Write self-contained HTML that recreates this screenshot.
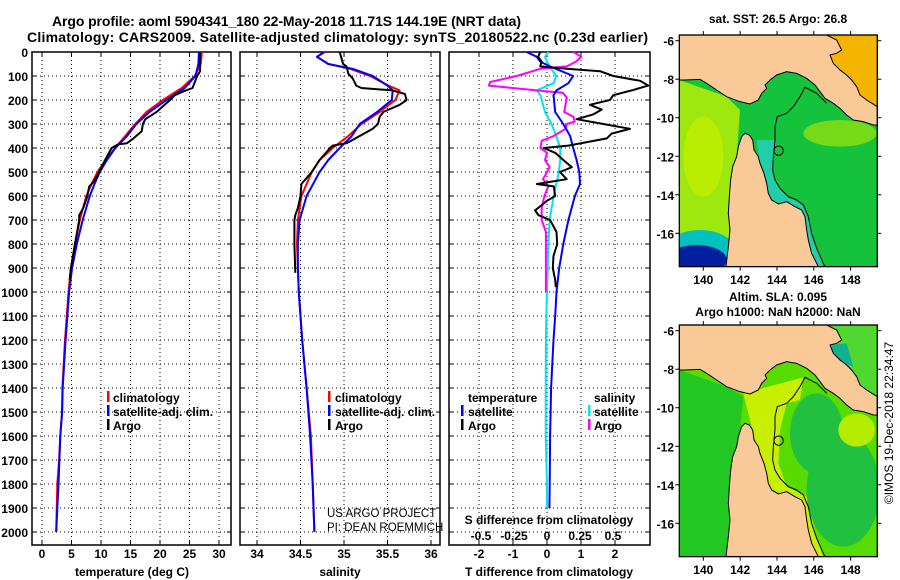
<!DOCTYPE html>
<html><head><meta charset="utf-8"><style>
html,body{margin:0;padding:0;background:#fff;width:900px;height:580px;overflow:hidden}
svg{display:block}
text{font-family:"Liberation Sans",Arial,sans-serif;font-weight:bold;fill:#000}
</style></head><body>
<svg id="fig" width="900" height="580" viewBox="0 0 900 580" xmlns="http://www.w3.org/2000/svg">
<text x="52" y="26" font-size="14" textLength="469">Argo profile: aoml 5904341_180 22-May-2018 11.71S 144.19E (NRT data)</text>
<text x="27" y="42" font-size="14" textLength="621">Climatology: CARS2009. Satellite-adjusted climatology: synTS_20180522.nc (0.23d earlier)</text>
<g id="panels"></g>
<g id="maps"></g>
</svg>
<script>
// ---- data ----
const climDepth=[0,50,100,150,200,250,300,350,400,450,500,550,600,700,800,900,1000,1100,1200,1400,1500,1600,1700,1800,2000];
const climT=[27.1,26.9,25.9,23.7,20.5,17.7,15.8,14.1,12.4,10.8,9.4,8.4,7.5,6.4,5.6,4.9,4.5,4.2,3.9,3.45,3.4,3.1,2.9,2.6,2.4];
const satT=[26.6,26.5,26.0,24.2,21.1,18.2,16.0,14.4,12.4,11.0,9.8,8.9,8.1,6.9,5.9,5.1,4.6,4.3,4.0,3.5,3.4,3.1,2.95,2.8,2.4];
const argoTDepth=[0,80,100,150,165,180,200,250,280,300,330,360,380,385,400,450,500,540,560,600,650,680,700,800,900,950];
const argoT=[26.8,26.8,26.3,25.5,23.9,22.5,21.7,19.4,17.5,17.1,16.9,15.5,14.4,12.9,11.8,10.7,9.7,8.8,8.0,7.7,7.0,6.3,6.3,5.6,4.9,4.7];
const salDepth=[0,20,50,70,100,140,160,200,250,300,350,400,450,500,600,700,800,900,1000,1100,1200,1400,1600,1800,2000];
const climS=[34.78,34.69,34.82,35.07,35.30,35.51,35.64,35.59,35.41,35.2,35.05,34.87,34.72,34.63,34.51,34.47,34.46,34.47,34.48,34.5,34.52,34.57,34.62,34.64,34.66];
const satS=[34.77,34.69,34.82,35.1,35.33,35.5,35.56,35.55,35.38,35.18,35.09,34.95,34.82,34.72,34.57,34.49,34.47,34.47,34.48,34.5,34.52,34.57,34.61,34.64,34.66];
const argoSDepth=[0,50,60,90,110,140,150,160,175,200,220,250,270,300,320,350,380,390,400,450,500,550,600,650,680,700,800,920];
const argoS=[34.95,34.99,35.03,35.05,35.1,35.14,35.2,35.56,35.7,35.72,35.64,35.45,35.41,35.39,35.33,35.18,35.03,34.87,34.84,34.72,34.63,34.51,34.5,34.47,34.44,34.43,34.43,34.44];
const satDiffDepth=[0,20,40,60,100,130,160,180,250,300,350,400,450,500,550,600,700,800,900,1000,1100,1200,1400,1600,1800,1900];
const satDT=[-0.6,-0.3,-0.2,0.09,0.77,0.63,0.28,0.19,0.24,0.48,0.68,0.77,0.87,0.95,0.97,0.82,0.63,0.48,0.36,0.28,0.24,0.19,0.12,0.09,0.08,0.07];
const satDS=[0.01,-0.015,0.0,0.02,0.07,0.05,-0.08,-0.05,-0.015,0.035,0.07,0.1,0.1,0.09,0.07,0.05,0.02,0.01,0.005,0,-0.005,-0.008,-0.01,-0.01,0.0,0.0];
const argoDTDepth=[0,20,40,60,70,80,100,120,140,160,180,200,220,240,260,280,300,320,340,360,390,400,420,450,480,500,530,550,560,600,620,660,680,700,750,800,850,900,950,980];
const argoDT=[-0.2,-0.26,-0.16,-0.2,0.58,1.56,1.95,2.74,2.98,2.49,1.95,1.85,1.26,1.61,1.36,0.87,1.66,2.44,1.9,1.76,0.63,-0.1,0.24,0.48,0.73,0.38,0.58,-0.3,0.2,0.24,0.0,-0.35,-0.25,0.09,0.28,0.3,0.19,0.17,0.24,0.26];
const argoDSDepth=[0,20,40,60,70,100,125,140,150,160,170,190,220,250,270,290,300,320,350,370,400,420,450,480,500,530,560,600,650,700,750,800,1000];
const argoDS=[0.2,0.26,0.22,0.15,-0.05,-0.23,-0.43,-0.44,-0.26,-0.08,0.12,0.15,0.14,0.13,0.2,0.21,0.15,0.14,0.05,-0.04,-0.05,0,-0.015,0.02,0,-0.03,0.01,-0.02,-0.04,-0.04,-0.008,-0.008,-0.008];
const depthTicks=[0,100,200,300,400,500,600,700,800,900,1000,1100,1200,1300,1400,1500,1600,1700,1800,1900,2000];
const tempTicks=[0,5,10,15,20,25,30];
const salTicks=[34,34.5,35,35.5,36];
const salTickLabels=["34","34.5","35","35.5","36"];
const dTTicks=[-2,-1,0,1,2];
const dSTicks=[-0.5,-0.25,0,0.25,0.5];
const dSTickLabels=["-0.5","-0.25","0","0.25","0.5"];

const NS="http://www.w3.org/2000/svg";
const G=document.getElementById('panels');
function mk(tag,attrs,parent){const e=document.createElementNS(NS,tag);for(const k in attrs)e.setAttribute(k,attrs[k]);(parent||G).appendChild(e);return e;}
const yD=d=>52+d*0.24;
const TOP=52,BOT=545;
const xT=t=>42+t*5.9;
const xS=s=>257+(s-34)*87;
const xDT=v=>547+v*34;
const xDS=v=>547+v*132;

function frame(x0,x1,gridXs,name){
  const g=mk('g',{});
  
  
  for(const gx of gridXs){
    const l=mk('line',{x1:gx,x2:gx,y1:TOP,y2:BOT,stroke:'#000','stroke-width':1,'stroke-dasharray':'1,3'},g);
    
    
    mk('line',{x1:gx,x2:gx,y1:TOP,y2:TOP+4,stroke:'#000'},g);
    mk('line',{x1:gx,x2:gx,y1:BOT,y2:BOT-4,stroke:'#000'},g);
  }
  for(const d of depthTicks){
    const y=yD(d);
    const l=mk('line',{x1:x0,x2:x1,y1:y,y2:y,stroke:'#000','stroke-width':1,'stroke-dasharray':'1,3'},g);
    
    
    mk('line',{x1:x0,x2:x0+4,y1:y,y2:y,stroke:'#000'},g);
    mk('line',{x1:x1,x2:x1-4,y1:y,y2:y,stroke:'#000'},g);
  }
  const r=mk('rect',{x:x0,y:TOP,width:x1-x0,height:BOT-TOP,fill:'none',stroke:'#000','stroke-width':1.5},g);
  
  
  return g;
}
function line(xs,ds,xf,color,name,w){
  const pts=xs.map((v,i)=>xf(v).toFixed(1)+','+yD(ds[i]).toFixed(1)).join(' ');
  const p=mk('polyline',{points:pts,fill:'none',stroke:color,'stroke-width':w||2,'stroke-linejoin':'round'});
  
  
}
function txt(x,y,s,size,anchor,name,extra){
  const t=mk('text',Object.assign({x:x,y:y,'font-size':size,'text-anchor':anchor||'start'},extra||{}));
  t.textContent=s;
  
  
  return t;
}
function legendBar(x,y,color){const b=mk('rect',{x:x,y:y-11,width:2.5,height:11,fill:color});}

// depth axis labels
for(const d of depthTicks){txt(28,yD(d)+5,String(d),12,'end','depth-tick-label');}

// Panel 1 temperature
frame(32,231,tempTicks.map(xT),'temperature-panel');
line(climT,climDepth,xT,'#ff0000','temperature-climatology-line');
line(satT,climDepth,xT,'#0000ff','temperature-satellite-line');
line(argoT,argoTDepth,xT,'#000000','temperature-argo-line');
tempTicks.forEach(t=>txt(xT(t),558,String(t),12,'middle','temperature-tick-label'));
txt(132,576,'temperature (deg C)',12,'middle','x-axis-title-temperature');
legendBar(107,402,'#ff0000');txt(113,402,'climatology',12,'start','legend-entry-climatology');
legendBar(107,416,'#0000ff');txt(113,416,'satellite-adj. clim.',12,'start','legend-entry-satellite');
legendBar(107,430,'#000');txt(113,430,'Argo',12,'start','legend-entry-argo');

// Panel 2 salinity
frame(240,440,salTicks.map(xS),'salinity-panel');
line(climS,salDepth,xS,'#ff0000','salinity-climatology-line');
line(satS,salDepth,xS,'#0000ff','salinity-satellite-line');
line(argoS,argoSDepth,xS,'#000000','salinity-argo-line');
salTicks.forEach((s,i)=>txt(xS(s),558,salTickLabels[i],12,'middle','salinity-tick-label'));
txt(340,576,'salinity',12,'middle','x-axis-title-salinity');
legendBar(328,402,'#ff0000');txt(335,402,'climatology',12,'start','legend-entry-climatology');
legendBar(328,416,'#0000ff');txt(335,416,'satellite-adj. clim.',12,'start','legend-entry-satellite');
legendBar(328,430,'#000');txt(335,430,'Argo',12,'start','legend-entry-argo');
txt(327,517,'US ARGO PROJECT',11.5,'start','credit-project',{'font-weight':'normal',style:'font-weight:normal'});
txt(327,531,'PI: DEAN ROEMMICH',11.5,'start','credit-pi',{style:'font-weight:normal'});

// Panel 3 differences
frame(449,650,dTTicks.map(xDT),'difference-panel');
line(satDS,satDiffDepth,xDS,'#00e5e5','salinity-diff-satellite-line');
line(argoDS,argoDSDepth,xDS,'#ff00ff','salinity-diff-argo-line');
line(satDT,satDiffDepth,xDT,'#0000ff','temperature-diff-satellite-line');
line(argoDT,argoDTDepth,xDT,'#000000','temperature-diff-argo-line');
dTTicks.forEach(v=>txt(xDT(v),558,String(v),12,'middle','t-diff-tick-label'));
dSTicks.forEach((v,i)=>txt(xDS(v),540,dSTickLabels[i],12,'middle','s-diff-tick-label'));
txt(549,576,'T difference from climatology',12,'middle','x-axis-title-t-diff');
txt(549,524,'S difference from climatology',12,'middle','x-axis-title-s-diff');
txt(468,402,'temperature',12,'start','legend-title-temperature');
legendBar(461,416,'#0000ff');txt(468,416,'satellite',12,'start','legend-entry-t-satellite');
legendBar(461,430,'#000');txt(468,430,'Argo',12,'start','legend-entry-t-argo');
txt(594,402,'salinity',12,'start','legend-title-salinity');
legendBar(588,416,'#00e5e5');txt(594,416,'satellite',12,'start','legend-entry-s-satellite');
legendBar(588,430,'#ff00ff');txt(594,430,'Argo',12,'start','legend-entry-s-argo');

// ---- maps ----
const M=document.getElementById('maps');
const ngLand="58,105 500,105 530,120 545,150 530,160 510,165 520,190 540,210 560,225 575,240 590,260 600,285 620,300 652,320 652,375 640,375 610,365 580,360 560,345 540,325 520,310 495,295 480,275 465,255 440,235 410,220 380,215 350,225 330,240 315,255 320,265 305,280 295,300 270,312 240,305 200,290 170,270 140,250 120,238 75,240 58,240";
const capeYork="198,800 205,740 210,690 205,640 208,590 212,540 218,500 230,470 235,440 245,410 255,400 268,405 278,420 282,450 295,470 300,490 312,520 320,550 325,580 335,600 355,612 380,605 405,620 425,630 435,650 440,690 445,720 455,760 470,790 475,800";
const contour="500,310 470,280 435,262 420,290 400,320 380,340 352,350 345,380 345,420 340,470 338,510 345,540 360,565 385,590 410,600 430,615 445,650 455,700 470,745 490,790 495,800";
const lonTicks=[140,142,144,146,148];
const latTicks=[-6,-8,-10,-12,-14,-16];
const lonX=l=>703.3+(l-140)*18.42;
const latY=l=>40.7+(-6-l)*19.26;

function drawMap(oy,idx,oceanFn,name){
  const g=mk('g',{},M);
  
  
  const cid='clip'+idx;
  const cp=mk('clipPath',{id:cid},g);
  mk('rect',{x:58,y:105,width:594,height:695},cp);
  const inner=mk('g',{transform:`translate(660,${oy}) scale(0.3333)`},g);
  const c=mk('g',{'clip-path':`url(#${cid})`},inner);
  oceanFn(c);
  const l1=mk('polygon',{points:ngLand,fill:'#f9c998',stroke:'#000','stroke-width':3},c);
  
  const l2=mk('polygon',{points:capeYork,fill:'#f9c998',stroke:'#000','stroke-width':3},c);
  
  mk('polyline',{points:contour,fill:'none',stroke:'#000','stroke-width':3},c);
  const circ=mk('circle',{cx:356,cy:452,r:14,fill:'none',stroke:'#000','stroke-width':3},c);
  
  mk('rect',{x:58,y:105,width:594,height:695,fill:'none',stroke:'#000','stroke-width':4},inner);
  const sy=oy;
  for(const l of lonTicks){const x=lonX(l);
    mk('line',{x1:x,x2:x,y1:sy+35,y2:sy+31,stroke:'#000'},g);
    mk('line',{x1:x,x2:x,y1:sy+266.7,y2:sy+270.7,stroke:'#000'},g);
    txt(x,sy+284,String(l),12,'middle','longitude-tick-label').parentNode!==g&&g.appendChild(G.lastChild);}
  for(const l of latTicks){const y=sy+latY(l);
    mk('line',{x1:675.3,x2:679.3,y1:y,y2:y,stroke:'#000'},g);
    mk('line',{x1:877.3,x2:881.3,y1:y,y2:y,stroke:'#000'},g);
    txt(674,y+5,String(l),12,'end','latitude-tick-label');g.appendChild(G.lastChild);}
}
drawMap(0,1,c=>{
  mk('rect',{x:0,y:0,width:800,height:900,fill:'#14c23c'},c);
  mk('polygon',{points:"58,240 200,290 240,330 230,470 210,560 205,800 58,800",fill:'#9ee810'},c);
  mk('ellipse',{cx:130,cy:470,rx:60,ry:120,fill:'#c4f000',opacity:0.7},c);
  mk('ellipse',{cx:120,cy:760,rx:110,ry:70,fill:'#00c0c0'},c);
  mk('ellipse',{cx:110,cy:780,rx:90,ry:45,fill:'#0020a0'},c);
  mk('ellipse',{cx:540,cy:400,rx:110,ry:40,fill:'#90e010',opacity:0.8},c);
  mk('polygon',{points:"290,420 345,420 340,470 338,510 345,540 360,565 385,590 430,615 445,650 470,745 490,800 440,800 430,690 420,640 380,615 330,600 300,500",fill:'#20cfa8'},c);
  mk('polygon',{points:"500,105 652,105 652,320 600,285 560,225 520,190 510,165 530,160",fill:'#f5b400'},c);
},'sst-map');
drawMap(290,2,c=>{
  mk('rect',{x:0,y:0,width:800,height:900,fill:'#58dc00'},c);
  mk('polygon',{points:"58,240 200,290 250,320 240,420 210,560 205,800 58,800",fill:'#22c722'},c);
  mk('polygon',{points:"250,310 430,262 420,330 380,340 360,420 355,520 380,590 440,620 470,745 490,800 440,800 430,690 380,615 330,600 290,470",fill:'#c8ef00'},c);
  mk('ellipse',{cx:470,cy:430,rx:80,ry:120,fill:'#22c040'},c);
  mk('ellipse',{cx:550,cy:600,rx:110,ry:170,fill:'#20c040'},c);
  mk('ellipse',{cx:590,cy:420,rx:55,ry:50,fill:'#b4ec00'},c);
  mk('polygon',{points:"500,105 652,105 652,320 600,285 560,225 520,190 510,165 530,160",fill:'#50d830'},c);
  mk('polygon',{points:"510,165 560,160 580,230 560,225 520,190",fill:'#10b090'},c);
},'sla-map');
txt(778,23,'sat. SST: 26.5 Argo: 26.8',12,'middle','sst-map-title');M.appendChild(G.lastChild);
txt(778,301,'Altim. SLA: 0.095',12,'middle','sla-map-title');M.appendChild(G.lastChild);
txt(778,316,'Argo h1000: NaN h2000: NaN',12,'middle','sla-map-subtitle');M.appendChild(G.lastChild);
const ts=txt(0,0,'©IMOS 19-Dec-2018 22:34:47',12,'middle','timestamp-credit',{transform:'translate(893,423) rotate(-90)',style:'font-weight:normal'});
M.appendChild(ts);
</script>
</body></html>
